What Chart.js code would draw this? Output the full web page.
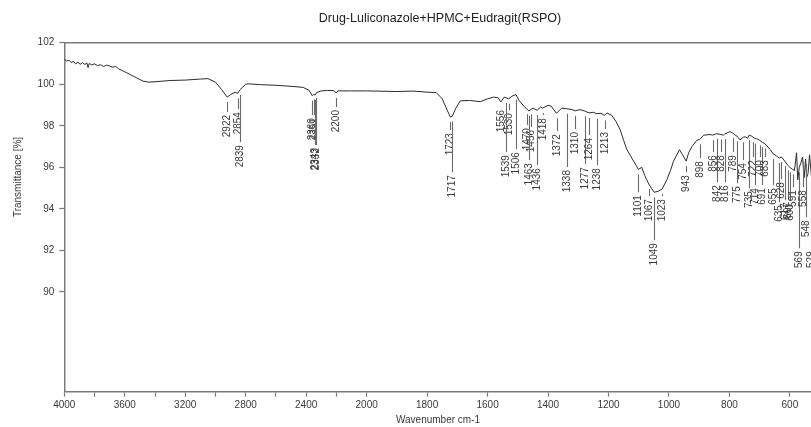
<!DOCTYPE html>
<html>
<head>
<meta charset="utf-8">
<title>FTIR - Drug-Luliconazole+HPMC+Eudragit(RSPO)</title>
<script src="https://cdn.jsdelivr.net/npm/chart.js@4.4.1/dist/chart.umd.min.js"></script>
<style>
  html, body { margin: 0; padding: 0; background: #fff; overflow: hidden; }
  #wrap { width: 811px; height: 427px; overflow: hidden; }
  canvas { display: block; }
</style>
</head>
<body>
<div id="wrap"><canvas id="ftir" width="880" height="427"></canvas></div>
<script>
// spectrum (wavenumber cm-1 -> transmittance %)
const wavenumbers = [
    4000, 3985, 3970, 3955, 3940, 3925, 3910, 3895, 3880, 3865, 3850, 3843, 3835, 3820, 3800,
    3780, 3760, 3740, 3720, 3700, 3680, 3660, 3640, 3600, 3560, 3520, 3480, 3440, 3400, 3300,
    3200, 3100, 3050, 3000, 2960, 2922, 2900, 2870, 2854, 2840, 2800, 2780, 2700, 2600, 2500,
    2420, 2380, 2360, 2350, 2341, 2330, 2300, 2260, 2220, 2200, 2190, 2100, 2000, 1900, 1846,
    1800, 1770, 1750, 1735, 1723, 1717, 1705, 1690, 1660, 1624, 1600, 1580, 1565, 1556, 1545,
    1539, 1530, 1520, 1506, 1495, 1480, 1470, 1463, 1450, 1436, 1425, 1418, 1400, 1390, 1372,
    1355, 1338, 1320, 1310, 1294, 1277, 1264, 1250, 1238, 1225, 1213, 1205, 1189, 1175, 1161,
    1150, 1139, 1125, 1117, 1101, 1090, 1080, 1067, 1049, 1035, 1023, 1007, 995, 985, 965,
    955, 943, 935, 924, 908, 898, 885, 864, 856, 842, 828, 820, 816, 798, 789,
    781, 775, 765, 754, 748, 740, 735, 726, 722, 714, 710, 700, 691, 683, 677,
    665, 655, 645, 635, 628, 617, 607, 600, 591, 585, 578, 574, 569, 564, 558,
    553, 548, 545, 540, 535, 529, 522, 515, 505, 495, 480, 460, 440, 420, 400
];
const transmittance = [
    101.2, 101.12, 101.16, 101.05, 101.1, 100.98, 101.06, 100.96, 101.04, 100.95, 101.02, 100.8, 101.0, 100.94, 100.98,
    100.9, 100.94, 100.86, 100.92, 100.88, 100.82, 100.86, 100.74, 100.6, 100.45, 100.3, 100.15, 100.1, 100.12, 100.18,
    100.2, 100.25, 100.27, 100.1, 99.75, 99.38, 99.5, 99.62, 99.56, 99.72, 100.0, 100.02, 99.98, 99.95, 99.9,
    99.85, 99.7, 99.45, 99.52, 99.48, 99.6, 99.68, 99.7, 99.7, 99.58, 99.68, 99.68, 99.68, 99.65, 99.67,
    99.62, 99.6, 99.3, 98.8, 98.42, 98.45, 98.85, 99.2, 99.22, 99.16, 99.3, 99.38, 99.35, 99.15, 99.38,
    99.35, 99.3, 99.42, 99.5, 99.2, 98.95, 98.8, 98.72, 98.85, 98.75, 98.9, 98.85, 98.98, 98.95, 98.6,
    98.85, 98.82, 98.78, 98.72, 98.78, 98.7, 98.62, 98.65, 98.58, 98.6, 98.5, 98.62, 98.5, 98.2, 97.8,
    97.3, 96.85, 96.5, 96.3, 95.9, 96.0, 95.6, 95.2, 94.8, 94.85, 94.95, 95.4, 95.85, 96.3, 96.85,
    96.6, 96.3, 96.7, 97.0, 97.3, 97.35, 97.55, 97.58, 97.55, 97.62, 97.58, 97.55, 97.6, 97.72, 97.65,
    97.55, 97.5, 97.32, 97.45, 97.47, 97.4, 97.55, 97.5, 97.45, 97.38, 97.38, 97.3, 97.2, 97.15, 97.05,
    96.85, 96.65, 96.55, 96.45, 96.5, 96.3, 96.1, 96.0, 95.9, 95.85, 96.7, 95.4, 96.0, 96.2, 96.5,
    95.5, 96.4, 95.5, 95.7, 96.6, 95.6, 96.2, 95.9, 96.3, 96.0, 96.2, 96.1, 96.3, 96.2, 96.3
];

// labelled peaks
const peakWavenumbers = [
    2922, 2854, 2839, 2360, 2351, 2343, 2332, 2200, 1723, 1717,
    1556, 1530, 1539, 1506, 1470, 1456, 1463, 1436, 1418, 1372,
    1338, 1310, 1277, 1264, 1238, 1213, 1101, 1067, 1049, 1023,
    943, 898, 856, 842, 828, 816, 789, 775, 754, 735,
    722, 714, 700, 691, 683, 655, 635, 628, 617, 607,
    600, 591, 569, 558, 548, 529
];
// where each peak label starts (transmittance level of its upper end)
const peakLabelAt = [
    98.52, 98.66, 97.07, 98.37, 98.37, 96.93, 96.93, 98.76, 97.65, 95.62,
    98.76, 98.61, 96.59, 96.73, 97.89, 97.8, 96.2, 95.96, 98.37, 97.6,
    95.87, 97.7, 96.01, 97.41, 95.96, 97.7, 94.66, 94.47, 92.35, 94.47,
    95.62, 96.3, 96.59, 95.14, 96.59, 95.14, 96.59, 95.09, 96.2, 94.85,
    96.35, 95.0, 96.35, 95.0, 96.35, 95.0, 94.18, 95.29, 94.27, 94.32,
    94.23, 94.9, 91.96, 94.9, 93.45, 91.96
];

const xTickValues = [4000, 3800, 3600, 3400, 3200, 3000, 2800, 2600, 2400, 2200, 2000,
    1800, 1600, 1400, 1200, 1000, 800, 600];
const xTickLabels = ['4000', '', '3600', '', '3200', '', '2800', '', '2400', '', '2000',
    '1800', '1600', '1400', '1200', '1000', '800', '600'];
const yTickValues = [90, 92, 94, 96, 98, 100, 102];

const titleText = 'Drug-Luliconazole+HPMC+Eudragit(RSPO)';
const xTitle = 'Wavenumber cm-1';
const yTitle = 'Transmittance [%]';

const FONT = "'Liberation Sans', Arial, sans-serif";
const AXIS_COLOR = '#7a7a7a';
const TEXT_COLOR = '#3a3a3a';

// the axis is compressed by 2 above 2000 cm-1, like the OPUS plot
function toAxis(w) {
    return w > 2000 ? 2000 + (w - 2000) / 2 : w;
}

function spectrumAt(w) {
    for (let i = 0; i < wavenumbers.length - 1; i++) {
        const a = wavenumbers[i], b = wavenumbers[i + 1];
        if (w <= a && w >= b) {
            const t = (a - w) / (a - b);
            return transmittance[i] + t * (transmittance[i + 1] - transmittance[i]);
        }
    }
    return transmittance[transmittance.length - 1];
}

Chart.defaults.font.family = FONT;
Chart.defaults.color = TEXT_COLOR;

const peakLabels = {
    id: 'peakLabels',
    afterDatasetsDraw(chart) {
        const { ctx, scales: { x, y } } = chart;
        ctx.save();
        ctx.font = '10px ' + FONT;
        ctx.strokeStyle = '#6a6a6a';
        ctx.lineWidth = 1.1;
        for (let i = 0; i < peakWavenumbers.length; i++) {
            const w = peakWavenumbers[i];
            const px = Math.round(x.getPixelForValue(toAxis(w))) + 0.5;
            const top = y.getPixelForValue(spectrumAt(w)) + 5;
            const labTop = y.getPixelForValue(peakLabelAt[i]);
            if (labTop - 3 > top) {
                ctx.beginPath();
                ctx.moveTo(px, top);
                ctx.lineTo(px, labTop - 3);
                ctx.stroke();
            }
            ctx.save();
            ctx.translate(px, labTop);
            ctx.rotate(-Math.PI / 2);
            ctx.fillStyle = TEXT_COLOR;
            ctx.textAlign = 'right';
            ctx.textBaseline = 'middle';
            ctx.fillText(String(w), 0, 0);
            ctx.restore();
        }
        ctx.restore();
    }
};

const frameAndTitles = {
    id: 'frameAndTitles',
    afterDraw(chart) {
        const { ctx, chartArea } = chart;
        ctx.save();
        ctx.strokeStyle = AXIS_COLOR;
        ctx.lineWidth = 1.5;
        ctx.beginPath();
        ctx.moveTo(chartArea.left, chartArea.top);
        ctx.lineTo(chartArea.right, chartArea.top);
        ctx.lineTo(chartArea.right, chartArea.bottom);
        ctx.stroke();

        ctx.fillStyle = TEXT_COLOR;
        ctx.font = '10px ' + FONT;
        ctx.textAlign = 'center';
        ctx.textBaseline = 'middle';
        ctx.fillText(xTitle, 438, 420);

        ctx.translate(18, 177);
        ctx.rotate(-Math.PI / 2);
        ctx.fillText(yTitle, 0, 0);
        ctx.restore();
    }
};

const ctx = document.getElementById('ftir');

const chart = new Chart(ctx, {
    type: 'line',
    data: {
        datasets: [{
            label: 'spectrum',
            data: wavenumbers.map((w, i) => ({ x: toAxis(w), y: transmittance[i] })),
            borderColor: '#2b2b2b',
            borderWidth: 1,
            pointRadius: 0,
            tension: 0
        }]
    },
    options: {
        responsive: false,
        animation: false,
        layout: { padding: 0 },
        plugins: {
            legend: { display: false },
            tooltip: { enabled: false },
            title: {
                display: true,
                text: titleText,
                color: '#222',
                font: { size: 12.5, weight: 'normal' },
                padding: { top: 11, bottom: 16.7 }
            }
        },
        scales: {
            x: {
                type: 'linear',
                reverse: true,
                min: 302,
                max: toAxis(4000),
                afterBuildTicks: (scale) => {
                    scale.ticks = xTickValues.map(w => ({ value: toAxis(w) }));
                },
                afterFit: (scale) => { scale.height = 35.3; },
                ticks: {
                    autoSkip: false,
                    maxRotation: 0,
                    padding: 3,
                    color: TEXT_COLOR,
                    font: { size: 10 },
                    callback: (value, index) => xTickLabels[index]
                },
                grid: {
                    drawOnChartArea: false,
                    drawTicks: true,
                    tickLength: 5,
                    tickColor: AXIS_COLOR,
                    tickWidth: 1.2
                },
                border: { color: AXIS_COLOR, width: 1.5 }
            },
            y: {
                min: 85.2,
                max: 102,
                afterBuildTicks: (scale) => {
                    scale.ticks = yTickValues.map(v => ({ value: v }));
                },
                afterFit: (scale) => { scale.width = 64.3; },
                ticks: {
                    padding: 5,
                    color: TEXT_COLOR,
                    font: { size: 10 },
                    callback: (value) => String(value)
                },
                grid: {
                    drawOnChartArea: false,
                    drawTicks: true,
                    tickLength: 5,
                    tickColor: AXIS_COLOR,
                    tickWidth: 1.2
                },
                border: { color: AXIS_COLOR, width: 1.5 }
            }
        }
    },
    plugins: [peakLabels, frameAndTitles]
});
</script>
</body>
</html>
